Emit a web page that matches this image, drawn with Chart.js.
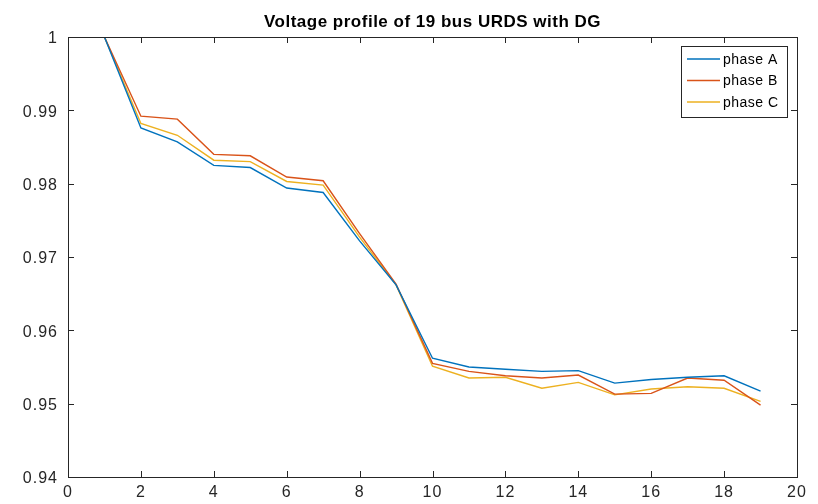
<!DOCTYPE html>
<html>
<head>
<meta charset="utf-8">
<script src="https://cdn.jsdelivr.net/npm/chart.js@4.4.0/dist/chart.umd.min.js"></script>
<style>
html, body { margin: 0; padding: 0; background: #fff; }
#wrap { width: 818px; height: 504px; }
</style>
</head>
<body>
<div id="wrap"><canvas id="mycanvas"></canvas></div>
<script>
var titleText = "Voltage profile of 19 bus URDS with DG";
var bus = [1, 2, 3, 4, 5, 6, 7, 8, 9, 10, 11, 12, 13, 14, 15, 16, 17, 18, 19];
var phaseA = [1.0, 0.9876, 0.9857, 0.9825, 0.9822, 0.9794, 0.9788, 0.9722, 0.9662, 0.9562, 0.9550, 0.9547, 0.9544, 0.9545, 0.9528, 0.9533, 0.9536, 0.9538, 0.9517];
var phaseB = [1.0, 0.9892, 0.9888, 0.9840, 0.9838, 0.9809, 0.9804, 0.9732, 0.9663, 0.9555, 0.9544, 0.9538, 0.9535, 0.9539, 0.9513, 0.9514, 0.9535, 0.9532, 0.9498];
var phaseC = [1.0, 0.9882, 0.9866, 0.9832, 0.9830, 0.9803, 0.9798, 0.9727, 0.9662, 0.9551, 0.9535, 0.9536, 0.9521, 0.9529, 0.9512, 0.9520, 0.9523, 0.9521, 0.9503];
var seriesNames = ["phase A", "phase B", "phase C"];
var seriesColors = ["#0072BD", "#D95319", "#EDB120"];
var xTicks = [0, 2, 4, 6, 8, 10, 12, 14, 16, 18, 20];
var yTicks = [0.94, 0.95, 0.96, 0.97, 0.98, 0.99, 1];

var font = "'Liberation Sans', Arial, sans-serif";

function toPoints(vals) {
	var pts = [];
	for (var i in vals) {
		pts.push({ x: bus[i], y: vals[i] });
	}
	return pts;
}

var allSeries = [phaseA, phaseB, phaseC];
var datasets = [];
for (var s = 0; s < allSeries.length; s++) {
	datasets.push({
		label: seriesNames[s],
		data: toPoints(allSeries[s]),
		borderColor: seriesColors[s],
		backgroundColor: seriesColors[s],
		borderWidth: 1.4,
		pointRadius: 0,
		fill: false,
		tension: 0
	});
}

// matlab style box, inward ticks, title and legend
var matlabAxes = {
	id: "matlabAxes",
	beforeDraw: function(chart) {
		chart.ctx.letterSpacing = "1px";
	},
	afterDatasetsDraw: function(chart) {
		var ctx = chart.ctx;
		var a = chart.chartArea;
		var xs = chart.scales.x, ys = chart.scales.y;
		ctx.save();
		ctx.strokeStyle = "#262626";
		ctx.lineWidth = 1;
		ctx.strokeRect(Math.round(a.left) + 0.5, Math.round(a.top) + 0.5, Math.round(a.right - a.left), Math.round(a.bottom - a.top));
		var tl = 6;
		ctx.beginPath();
		xTicks.forEach(function(v) {
			var px = Math.round(xs.getPixelForValue(v)) + 0.5;
			ctx.moveTo(px, a.bottom); ctx.lineTo(px, a.bottom - tl);
			ctx.moveTo(px, a.top); ctx.lineTo(px, a.top + tl);
		});
		yTicks.forEach(function(v) {
			var py = Math.round(ys.getPixelForValue(v)) + 0.5;
			ctx.moveTo(a.left, py); ctx.lineTo(a.left + tl, py);
			ctx.moveTo(a.right, py); ctx.lineTo(a.right - tl, py);
		});
		ctx.stroke();

		// title
		ctx.fillStyle = "#000";
		ctx.letterSpacing = "0.5px";
		ctx.font = "bold 17px " + font;
		ctx.textAlign = "center";
		ctx.textBaseline = "middle";
		ctx.fillText(titleText, (a.left + a.right) / 2, a.top - 15);

		// legend
		var bw = 106, bh = 71;
		var bx = a.right - 10 - bw, by = a.top + 9;
		ctx.fillStyle = "#fff";
		ctx.fillRect(bx, by, bw, bh);
		ctx.strokeStyle = "#262626";
		ctx.strokeRect(Math.round(bx) + 0.5, Math.round(by) + 0.5, bw, bh);
		ctx.letterSpacing = "0.5px";
		ctx.font = "14px " + font;
		ctx.textAlign = "left";
		for (var i = 0; i < seriesNames.length; i++) {
			var ly = by + 13 + i * 21.5;
			ctx.strokeStyle = seriesColors[i];
			ctx.lineWidth = 1.4;
			ctx.beginPath();
			ctx.moveTo(bx + 6, ly); ctx.lineTo(bx + 39, ly);
			ctx.stroke();
			ctx.fillStyle = "#000";
			ctx.fillText(seriesNames[i], bx + 42, ly + 1);
		}
		ctx.restore();
	}
};

var ctx = document.getElementById("mycanvas");
var LineGraph = new Chart(ctx, {
	type: "line",
	data: { datasets: datasets },
	options: {
		responsive: true,
		maintainAspectRatio: false,
		animation: false,
		layout: { padding: { top: 37, right: 21, left: 0, bottom: 0 } },
		plugins: {
			legend: { display: false },
			title: { display: false },
			tooltip: { enabled: false }
		},
		scales: {
			x: {
				type: "linear",
				min: 0, max: 20,
				grid: { display: false, drawTicks: false },
				border: { display: false },
				afterBuildTicks: function(scale) { scale.ticks = xTicks.map(function(v) { return { value: v }; }); },
				afterFit: function(scale) { scale.height = 27; },
				ticks: { color: "#262626", font: { family: font, size: 16 }, padding: 6, maxRotation: 0, autoSkip: false }
			},
			y: {
				min: 0.94, max: 1,
				grid: { display: false, drawTicks: false },
				border: { display: false },
				afterBuildTicks: function(scale) { scale.ticks = yTicks.map(function(v) { return { value: v }; }); },
				afterFit: function(scale) { scale.width = 68; },
				ticks: {
					color: "#262626", font: { family: font, size: 16 }, padding: 10, labelOffset: 2,
					callback: function(v) { return String(Math.round(v * 100) / 100); }
				}
			}
		}
	},
	plugins: [matlabAxes]
});
</script>
</body>
</html>
